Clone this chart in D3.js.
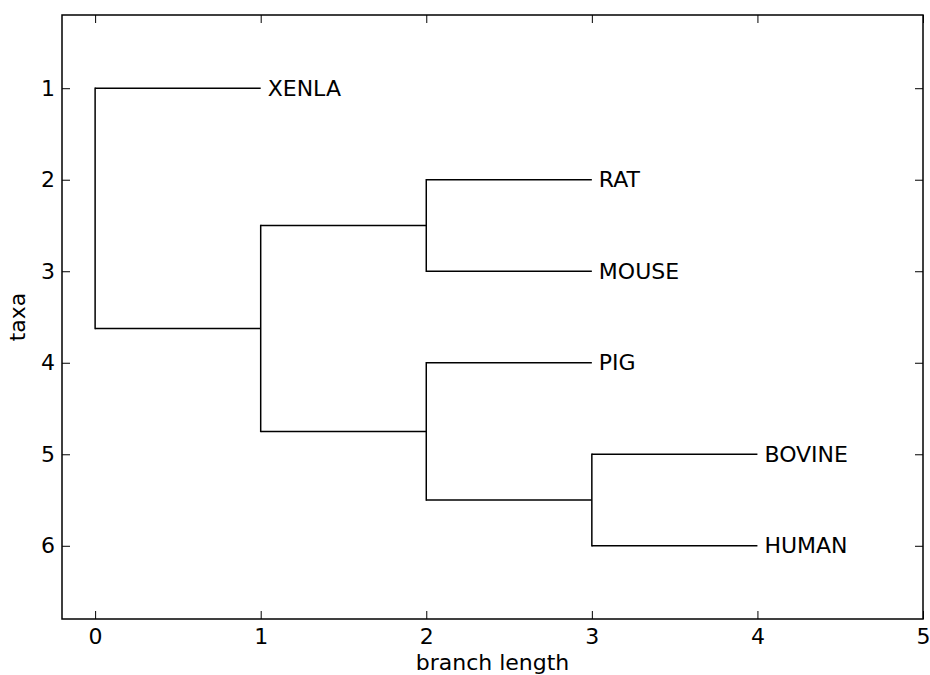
<!DOCTYPE html>
<html>
<head>
<meta charset="utf-8">
<script src="https://cdn.jsdelivr.net/npm/d3@7"></script>
<style>
  body { margin: 0; background: #fff; }
  text { font-family: "DejaVu Sans", sans-serif; }
</style>
</head>
<body>
<script>
// tree nodes in draw order, with their parent and branch length
const nodeIds      = ['root', 'XENLA', 'A', 'B', 'RAT', 'MOUSE', 'C', 'PIG', 'D', 'BOVINE', 'HUMAN'];
const parentIds    = ['',     'root',  'root', 'A', 'B', 'B',     'A', 'C',   'C', 'D',      'D'];
const branchLength = [0,      1,       1,      1,   1,   1,       1,   1,     1,   1,        1];

const xTicks = [0, 1, 2, 3, 4, 5];
const yTicks = [1, 2, 3, 4, 5, 6];

const width = 930, height = 675;
const margin = {top: 15, right: 7, bottom: 56, left: 62};

const rows = nodeIds.map((id, i) => ({id: id, parent: parentIds[i] || null, len: branchLength[i]}));
const root = d3.stratify().id(d => d.id).parentId(d => d.parent)(rows);

// x = distance from root, leaves get 1..n top to bottom, inner nodes sit between first and last child
let leafCount = 0;
root.eachBefore(n => { n.bx = (n.parent ? n.parent.bx : 0) + n.data.len; });
root.eachBefore(n => { if (!n.children) n.by = ++leafCount; });
root.eachAfter(n => {
  if (n.children) n.by = (n.children[0].by + n.children[n.children.length - 1].by) / 2;
});

const x = d3.scaleLinear().domain([-0.2, 5]).range([margin.left, width - margin.right]);
const y = d3.scaleLinear().domain([0.2, 6.8]).range([margin.top, height - margin.bottom]);

const svg = d3.select('body').append('svg')
  .attr('width', width)
  .attr('height', height);

// horizontal branches
svg.append('g')
  .selectAll('line')
  .data(root.descendants().filter(n => n.parent))
  .join('line')
  .attr('x1', d => x(d.parent.bx))
  .attr('x2', d => x(d.bx))
  .attr('y1', d => y(d.by))
  .attr('y2', d => y(d.by))
  .attr('stroke', '#000')
  .attr('stroke-width', 1.5);

// vertical connectors
svg.append('g')
  .selectAll('line')
  .data(root.descendants().filter(n => n.children))
  .join('line')
  .attr('x1', d => x(d.bx))
  .attr('x2', d => x(d.bx))
  .attr('y1', d => y(d.children[0].by))
  .attr('y2', d => y(d.children[d.children.length - 1].by))
  .attr('stroke', '#000')
  .attr('stroke-width', 1.5)
  .attr('stroke-linecap', 'square');

// leaf names
svg.append('g')
  .selectAll('text')
  .data(root.leaves())
  .join('text')
  .attr('x', d => x(d.bx) + 7)
  .attr('y', d => y(d.by))
  .attr('dy', '0.34em')
  .attr('font-size', 22)
  .attr('fill', '#000')
  .text(d => d.id);

// AXES - ticks point inwards on all four sides
function styleAxis(g) {
  g.select('.domain').remove();
  g.selectAll('.tick line').attr('stroke', '#000').attr('stroke-width', 1);
  g.selectAll('.tick text').attr('font-size', 22).attr('fill', '#000')
    .attr('font-family', '"DejaVu Sans", sans-serif');
}

svg.append('g')
  .attr('transform', `translate(0,${height - margin.bottom})`)
  .call(d3.axisBottom(x).tickValues(xTicks).tickFormat(d3.format('d'))
    .tickSizeInner(-8).tickSizeOuter(0).tickPadding(9))
  .call(styleAxis);

svg.append('g')
  .attr('transform', `translate(0,${margin.top})`)
  .call(d3.axisTop(x).tickValues(xTicks).tickSizeInner(-8).tickSizeOuter(0).tickFormat(''))
  .call(styleAxis);

svg.append('g')
  .attr('transform', `translate(${margin.left},0)`)
  .call(d3.axisLeft(y).tickValues(yTicks).tickFormat(d3.format('d'))
    .tickSizeInner(-8).tickSizeOuter(0).tickPadding(7))
  .call(styleAxis);

svg.append('g')
  .attr('transform', `translate(${width - margin.right},0)`)
  .call(d3.axisRight(y).tickValues(yTicks).tickSizeInner(-8).tickSizeOuter(0).tickFormat(''))
  .call(styleAxis);

// frame
svg.append('rect')
  .attr('x', margin.left)
  .attr('y', margin.top)
  .attr('width', width - margin.left - margin.right)
  .attr('height', height - margin.top - margin.bottom)
  .attr('fill', 'none')
  .attr('stroke', '#000')
  .attr('stroke-width', 1.5);

// axis labels
svg.append('text')
  .attr('x', (margin.left + width - margin.right) / 2)
  .attr('y', 670)
  .attr('text-anchor', 'middle')
  .attr('font-size', 22)
  .attr('fill', '#000')
  .text('branch length');

svg.append('text')
  .attr('transform', `translate(25,${(margin.top + height - margin.bottom) / 2}) rotate(-90)`)
  .attr('text-anchor', 'middle')
  .attr('font-size', 22)
  .attr('fill', '#000')
  .text('taxa');
</script>
</body>
</html>
